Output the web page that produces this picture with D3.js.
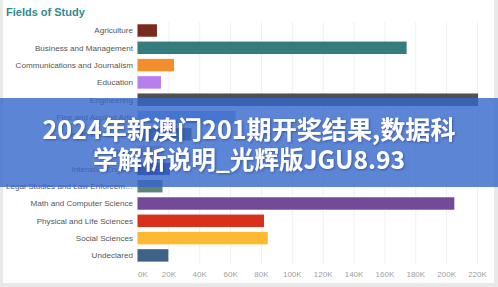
<!DOCTYPE html>
<html>
<head>
<meta charset="utf-8">
<script src="https://cdnjs.cloudflare.com/ajax/libs/d3/7.8.5/d3.min.js"></script>
<style>
  body { margin: 0; background: #e9e9e9; }
  svg { display: block; }
</style>
</head>
<body>
<svg width="498" height="287"></svg>
<script>
// data
const categories = [
  "Agriculture", "Business and Management", "Communications and Journalism",
  "Education", "Engineering", "Fine and Applied Arts", "Health Professions",
  "Humanities", "Intensive English", "Legal Studies and Law Enforcem\u2026",
  "Math and Computer Science", "Physical and Life Sciences", "Social Sciences",
  "Undeclared"
];
const values = [12600, 174400, 23700, 15200, 220700, 63600, 35000,
                17000, 21000, 16200, 205300, 82000, 84400, 20000];
const colors = ["#7a2a1c", "#347c7e", "#f28e2b", "#b77fee", "#505050", "#8fb6e2",
                "#5c6a58", "#d8b4cc", "#4d2f8f", "#5e8478", "#744a98", "#d8301c",
                "#fdb930", "#3e6389"];
const tickValues = [0, 20000, 40000, 60000, 80000, 100000, 120000, 140000,
                    160000, 180000, 200000, 220000];
const bannerLines = ["2024年新澳门201期开奖结果,数据科", "学解析说明_光辉版JGU8.93"];

const svg = d3.select("svg");

// white card on grey page
svg.append("rect")
  .attr("x", 3).attr("y", 0)
  .attr("width", 491).attr("height", 283)
  .attr("fill", "#fff");

const x = d3.scaleLinear().domain([0, 220000]).range([137.5, 477]);
const y = d3.scaleBand().domain(categories)
  .range([21.85, 264.05]).paddingInner(0.28).paddingOuter(0.14);

// gridlines
const grid = svg.append("g")
  .attr("transform", "translate(0,265)")
  .call(d3.axisBottom(x).tickValues(tickValues).tickSize(-243).tickFormat(""));
grid.select(".domain").remove();
grid.selectAll("line").attr("stroke", "#f1f1f1");

// title
svg.append("text")
  .attr("x", 6).attr("y", 15.5)
  .attr("font-family", "Liberation Sans, Arial, sans-serif")
  .attr("font-weight", "bold")
  .attr("font-size", 11)
  .attr("fill", "#2f8a93")
  .text("Fields of Study");

// bars
svg.append("g").selectAll("rect")
  .data(categories)
  .join("rect")
  .attr("x", x(0))
  .attr("y", d => y(d))
  .attr("width", (d, i) => x(values[i]) - x(0))
  .attr("height", y.bandwidth())
  .attr("fill", (d, i) => colors[i]);

// category labels
svg.append("g").selectAll("text")
  .data(categories)
  .join("text")
  .attr("x", 133)
  .attr("y", d => y(d) + y.bandwidth() / 2)
  .attr("dy", "0.35em")
  .attr("text-anchor", "end")
  .attr("font-family", "Liberation Sans, Arial, sans-serif")
  .attr("font-size", 8.1)
  .attr("fill", "#555")
  .text(d => d);

// x axis labels
const xAxis = svg.append("g")
  .attr("transform", "translate(0,268)")
  .call(d3.axisBottom(x).tickValues(tickValues).tickSize(0)
    .tickFormat(d => d / 1000 + "K"));
xAxis.select(".domain").remove();
xAxis.selectAll("text")
  .attr("font-family", "Liberation Sans, Arial, sans-serif")
  .attr("font-size", 8)
  .attr("fill", "#a0a0a0")
  .attr("dy", "0.71em");
xAxis.selectAll(".tick").filter(d => d === 0).select("text").attr("dx", 5);

// banner overlay
const defs = svg.append("defs");
const f = defs.append("filter").attr("id", "shadow")
  .attr("x", "-10%").attr("y", "-30%").attr("width", "120%").attr("height", "160%");
f.append("feDropShadow")
  .attr("dx", 1).attr("dy", 1).attr("stdDeviation", 1)
  .attr("flood-color", "#1a2a60").attr("flood-opacity", 0.5);

svg.append("rect")
  .attr("x", 0).attr("y", 98)
  .attr("width", 498).attr("height", 89)
  .attr("fill", "#3366cc")
  .attr("fill-opacity", 0.8);

const lineWidths = [413, 312];
svg.append("g").selectAll("text")
  .data(bannerLines)
  .join("text")
  .attr("x", 249)
  .attr("y", (d, i) => 128 + i * 29.5)
  .attr("dominant-baseline", "central")
  .attr("text-anchor", "middle")
  .attr("font-family", "Noto Sans CJK SC, sans-serif")
  .attr("font-weight", "bold")
  .attr("font-size", 25)
  .attr("textLength", (d, i) => lineWidths[i])
  .attr("lengthAdjust", "spacingAndGlyphs")
  .attr("fill", "#fff")
  .attr("filter", "url(#shadow)")
  .text(d => d);
</script>
</body>
</html>
